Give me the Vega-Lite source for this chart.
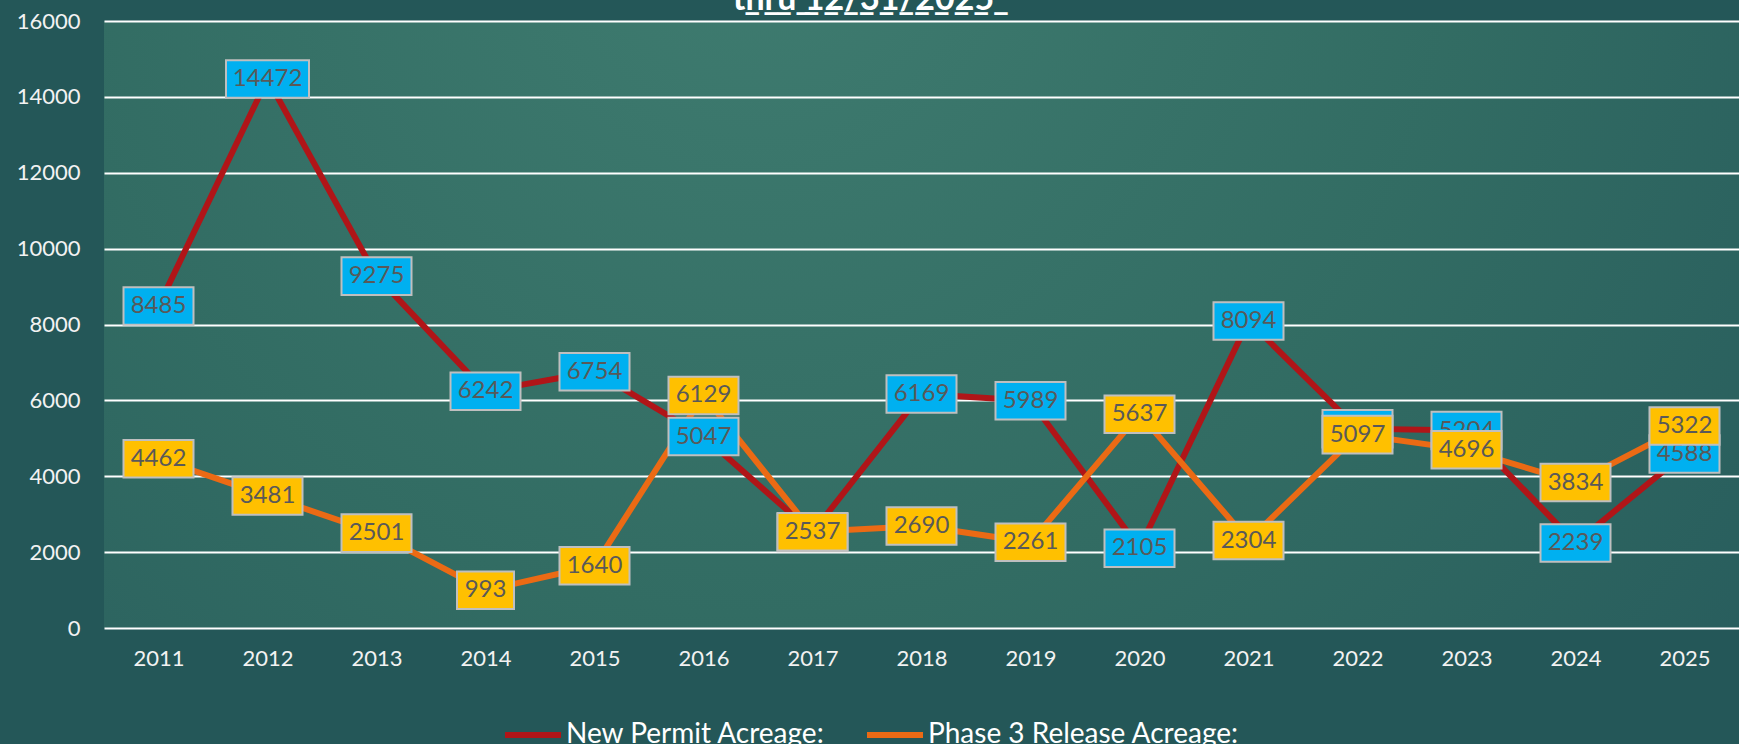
{
  "$schema": "https://vega.github.io/schema/vega-lite/v6.json",
  "autosize": {"type": "none"},
  "width": 1635,
  "height": 607,
  "padding": {"left": 104, "top": 21, "right": 0, "bottom": 116},
  "background": "#245758",
  "title": {
    "text": "t\u0332h\u0332r\u0332u\u0332 \u03321\u03322\u0332/\u03323\u03321\u0332/\u03322\u03320\u03322\u03325\u0332",
    "font": "Lato",
    "fontSize": 34,
    "fontWeight": "bold",
    "color": "#ffffff",
    "anchor": "middle",
    "baseline": "alphabetic",
    "offset": -34,
    "dx": -58
  },
  "config": {
    "view": {"stroke": null, "fill": {"gradient": "radial", "x1": 0.4, "y1": 0.25, "r1": 0, "x2": 0.4, "y2": 0.25, "r2": 0.95, "stops": [{"offset": 0, "color": "#3f7c70"}, {"offset": 0.45, "color": "#326c63"}, {"offset": 0.8, "color": "#285d5d"}, {"offset": 1, "color": "#1d4b50"}]}},
    "axis": {"labelFont": "Lato", "labelFontSize": 22, "labelColor": "#f2f2f2", "domain": false, "ticks": false, "title": null}
  },
  "data": {"values": [
    {"year": "2011", "series": "New Permit Acreage:", "value": 8485},
    {"year": "2012", "series": "New Permit Acreage:", "value": 14472},
    {"year": "2013", "series": "New Permit Acreage:", "value": 9275},
    {"year": "2014", "series": "New Permit Acreage:", "value": 6242},
    {"year": "2015", "series": "New Permit Acreage:", "value": 6754},
    {"year": "2016", "series": "New Permit Acreage:", "value": 5047},
    {"year": "2017", "series": "New Permit Acreage:", "value": 2520},
    {"year": "2018", "series": "New Permit Acreage:", "value": 6169},
    {"year": "2019", "series": "New Permit Acreage:", "value": 5989},
    {"year": "2020", "series": "New Permit Acreage:", "value": 2105},
    {"year": "2021", "series": "New Permit Acreage:", "value": 8094},
    {"year": "2022", "series": "New Permit Acreage:", "value": 5255},
    {"year": "2023", "series": "New Permit Acreage:", "value": 5204},
    {"year": "2024", "series": "New Permit Acreage:", "value": 2239},
    {"year": "2025", "series": "New Permit Acreage:", "value": 4588},
    {"year": "2011", "series": "Phase 3 Release Acreage:", "value": 4462},
    {"year": "2012", "series": "Phase 3 Release Acreage:", "value": 3481},
    {"year": "2013", "series": "Phase 3 Release Acreage:", "value": 2501},
    {"year": "2014", "series": "Phase 3 Release Acreage:", "value": 993},
    {"year": "2015", "series": "Phase 3 Release Acreage:", "value": 1640},
    {"year": "2016", "series": "Phase 3 Release Acreage:", "value": 6129},
    {"year": "2017", "series": "Phase 3 Release Acreage:", "value": 2537},
    {"year": "2018", "series": "Phase 3 Release Acreage:", "value": 2690},
    {"year": "2019", "series": "Phase 3 Release Acreage:", "value": 2261},
    {"year": "2020", "series": "Phase 3 Release Acreage:", "value": 5637},
    {"year": "2021", "series": "Phase 3 Release Acreage:", "value": 2304},
    {"year": "2022", "series": "Phase 3 Release Acreage:", "value": 5097},
    {"year": "2023", "series": "Phase 3 Release Acreage:", "value": 4696},
    {"year": "2024", "series": "Phase 3 Release Acreage:", "value": 3834},
    {"year": "2025", "series": "Phase 3 Release Acreage:", "value": 5322}
  ]},
  "encoding": {
    "x": {"field": "year", "type": "ordinal", "scale": {"type": "point", "padding": 0.5}, "axis": {"labelAngle": 0, "labelPadding": 20, "grid": false}},
    "y": {"field": "value", "type": "quantitative", "scale": {"domain": [0, 16000], "nice": false}, "axis": {"values": [0, 2000, 4000, 6000, 8000, 10000, 12000, 14000, 16000], "format": "d", "labelPadding": 24, "grid": true, "gridColor": "#ffffff", "gridWidth": 2, "gridOpacity": 1}}
  },
  "layer": [
    {
      "mark": {"type": "line", "strokeWidth": 6},
      "encoding": {
        "color": {"field": "series", "type": "nominal", "scale": {"domain": ["New Permit Acreage:", "Phase 3 Release Acreage:"], "range": ["#b01518", "#eb6a14"]},
          "legend": {"orient": "none", "legendX": 398, "legendY": 683, "direction": "horizontal", "title": null, "symbolType": "stroke", "symbolSize": 3136, "symbolStrokeWidth": 6, "labelFont": "Lato", "labelFontSize": 28, "labelColor": "#ffffff", "labelOffset": 2, "labelLimit": 0, "columnPadding": 29, "padding": 0}}
      }
    },
    {
      "transform": [{"filter": "datum.series === 'New Permit Acreage:'"}],
      "mark": {"type": "point", "filled": true, "fill": "#00b0f0", "stroke": "#bfbfbf", "strokeWidth": 2, "opacity": 1},
      "encoding": {
        "shape": {"condition": [{"test": "datum.value >= 10000", "value": "M-1,-0.452H1V0.452H-1Z"}, {"test": "datum.value < 1000", "value": "M-1,-0.658H1V0.658H-1Z"}], "value": "M-1,-0.536H1V0.536H-1Z"},
        "size": {"condition": [{"test": "datum.value >= 10000", "value": 6889}, {"test": "datum.value < 1000", "value": 3249}], "value": 4900}
      }
    },
    {
      "transform": [{"filter": "datum.series === 'New Permit Acreage:'"}],
      "mark": {"type": "text", "font": "Lato", "fontSize": 24, "color": "#595959", "align": "center", "baseline": "middle"},
      "encoding": {"text": {"field": "value", "type": "quantitative", "format": "d"}}
    },
    {
      "transform": [{"filter": "datum.series === 'Phase 3 Release Acreage:'"}],
      "mark": {"type": "point", "filled": true, "fill": "#ffc000", "stroke": "#bfbfbf", "strokeWidth": 2, "opacity": 1},
      "encoding": {
        "shape": {"condition": [{"test": "datum.value >= 10000", "value": "M-1,-0.452H1V0.452H-1Z"}, {"test": "datum.value < 1000", "value": "M-1,-0.658H1V0.658H-1Z"}], "value": "M-1,-0.536H1V0.536H-1Z"},
        "size": {"condition": [{"test": "datum.value >= 10000", "value": 6889}, {"test": "datum.value < 1000", "value": 3249}], "value": 4900}
      }
    },
    {
      "transform": [{"filter": "datum.series === 'Phase 3 Release Acreage:'"}],
      "mark": {"type": "text", "font": "Lato", "fontSize": 24, "color": "#595959", "align": "center", "baseline": "middle"},
      "encoding": {"text": {"field": "value", "type": "quantitative", "format": "d"}}
    }
  ]
}
